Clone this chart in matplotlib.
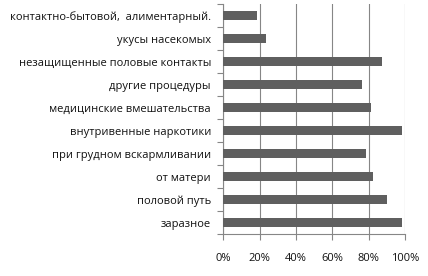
import matplotlib
matplotlib.use("Agg")
import matplotlib.pyplot as plt
from matplotlib.ticker import FixedLocator, PercentFormatter

categories = [
    "контактно-бытовой,  алиментарный.",
    "укусы насекомых",
    "незащищенные половые контакты",
    "другие процедуры",
    "медицинские вмешательства",
    "внутривенные наркотики",
    "при грудном вскармливании",
    "от матери",
    "половой путь",
    "заразное",
]
values = [18.5, 23.3, 87.3, 76.3, 81.3, 98.3, 78.5, 82.3, 90.0, 98.3]
xticks = [0, 20, 40, 60, 80, 100]

grey = "#868686"
bar_color = "#5f5f5f"

fig = plt.figure(figsize=(4.28, 2.76), dpi=100)
ax = fig.add_axes([0.522, 0.152, 0.424, 0.832])

pos = list(range(len(categories)))
ax.barh(pos, values, height=0.4, color=bar_color, zorder=3)
ax.set_ylim(len(categories) - 0.5, -0.5)
ax.set_xlim(0, 100)

ax.set_yticks(pos)
ax.set_yticklabels(categories, fontsize=8.0, family="Open Sans", color="#111111")
ax.yaxis.set_minor_locator(FixedLocator([p - 0.5 for p in pos] + [len(pos) - 0.5]))
ax.tick_params(axis="y", which="major", length=0, pad=9)
ax.tick_params(axis="y", which="minor", length=4, color=grey, width=0.8)

ax.set_xticks(xticks)
ax.xaxis.set_major_formatter(PercentFormatter(decimals=0))
for lbl in ax.get_xticklabels():
    lbl.set_family("Open Sans")
    lbl.set_color("#111111")
ax.tick_params(axis="x", labelsize=8.0, length=4, color=grey, width=0.8, pad=10)

ax.grid(axis="x", color=grey, linewidth=0.8, zorder=0)
for side in ["top", "right"]:
    ax.spines[side].set_visible(False)
for side in ["left", "bottom"]:
    ax.spines[side].set_color(grey)
    ax.spines[side].set_linewidth(0.8)

fig.savefig("out.png", dpi=100)
